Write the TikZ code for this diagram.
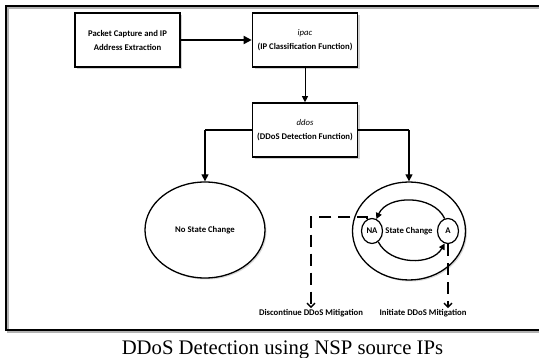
\documentclass[tikz,border=0pt]{standalone}
\usepackage{fontspec}
\setsansfont{Carlito}
\newfontfamily\capfont{Liberation Serif}
\usetikzlibrary{positioning,arrows.meta,shadows,shapes.geometric}
\tikzstyle{block} = [draw, line width=1.6pt, fill=white, rectangle, minimum height=54pt, minimum width=105pt, align=center, drop shadow={shadow xshift=2pt, shadow yshift=-2pt, opacity=0.35}]
\tikzstyle{bigstate} = [draw, ellipse, line width=1.3pt, fill=white, inner sep=0pt, drop shadow={shadow xshift=1.5pt, shadow yshift=-1.5pt, opacity=0.3}]
\tikzstyle{substate} = [draw, ellipse, line width=1.2pt, fill=white, minimum width=21pt, minimum height=25pt, inner sep=0pt]
\tikzstyle{note} = [inner sep=1pt]
\tikzset{
    every node/.style={font=\sffamily\bfseries\fontsize{8.7}{14}\selectfont},
    flow/.style={line width=1.3pt, -{Triangle[length=7pt,width=7pt]}},
    loop/.style={line width=1.3pt, -{Triangle[length=6pt,width=6pt]}},
    react/.style={line width=1.5pt, dash pattern=on 12pt off 7pt, -{Straight Barb[length=4pt,width=8pt,line width=1.3pt]}}
}

\begin{document}
\begin{tikzpicture}[x=1pt, y=-1pt]
        \useasboundingbox (0,0) rectangle (539,358);
        \clip (0,0) rectangle (539,358);
        % frame
        \draw [line width=2pt, gray!60] (547,8) -- (8,8) -- (8,332) -- (547,332);
        \draw [line width=1.6pt] (547,6) -- (6,6) -- (6,330) -- (547,330);

        \node [block] (capture) at (127.5,40) {Packet Capture and IP\\Address Extraction};
        \node [block, right of=capture, node distance=177.5pt] (ipac) {{\mdseries\itshape ipac}\\(IP Classification Function)};
        \node [block, below of=ipac, node distance=90pt] (ddos) {{\mdseries\itshape ddos}\\(DDoS Detection Function)};

        \node [coordinate, left of=ddos, node distance=100pt] (fl) {};
        \node [coordinate, right of=ddos, node distance=104pt] (fr) {};
        \node [bigstate, below of=fl, node distance=100pt, minimum width=120pt, minimum height=96pt] (nochange) {No State Change};
        \node [bigstate, below of=fr, node distance=101pt, minimum width=113pt, minimum height=98pt] (change) {State Change};
        \node [substate, left of=change, node distance=37pt] (na) {NA};
        \node [substate, right of=change, node distance=39pt] (a) {A};

        \node [note] (disc) at (311,313) {Discontinue DDoS Mitigation};
        \node [note] (init) at (423,313) {Initiate DDoS Mitigation};
        \coordinate (dcorner) at (311,217);

        \draw [line width=1.7pt, -{Triangle[length=8pt,width=8pt]}] (capture) -- (ipac);
        \draw [line width=0.8pt, -{Triangle[length=6pt,width=6pt]}] (ipac) -- (ddos);
        \draw [line width=1.3pt] (ddos) -- (fl);
        \draw [flow] (fl) -- (nochange);
        \draw [line width=1.3pt] (ddos) -- (fr);
        \draw [flow] (fr) -- (change);

        \draw [loop] (a.105) to [bend right=65] (na.70);
        \draw [loop] (na.-60) to [bend right=62] (a.-105);

        \draw [react] (na.112) |- (dcorner) -- (disc.north);
        \draw [react] (a.south) -- (a.south |- init.north);

        \node [font=\capfont\fontsize{20.7}{24}\selectfont, anchor=base] (caption) at (282.5,355) {DDoS Detection using NSP source IPs};
    \end{tikzpicture}
\end{document}
